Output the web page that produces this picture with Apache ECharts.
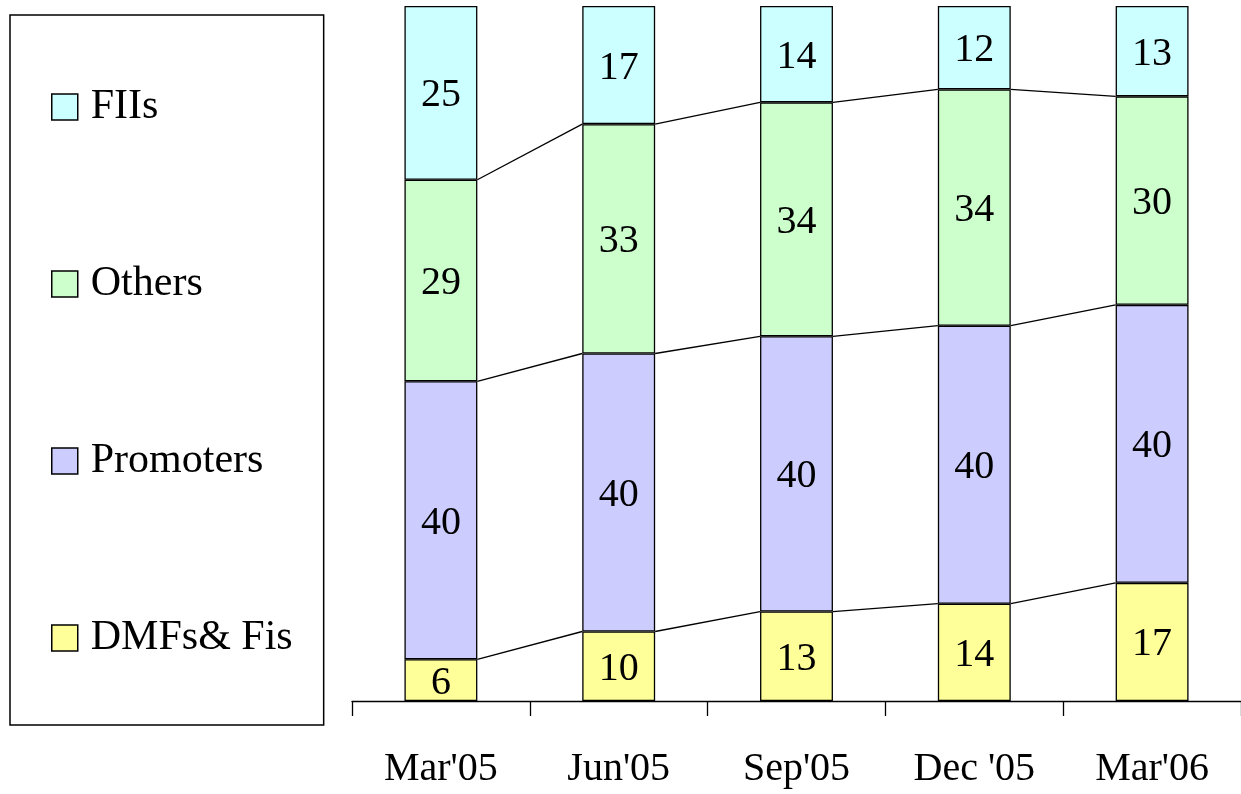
<!DOCTYPE html>
<html>
<head>
<meta charset="utf-8">
<title>Shareholding pattern</title>
<script src="https://cdn.jsdelivr.net/npm/echarts@6/dist/echarts.min.js"></script>
<style>
  html, body { margin: 0; padding: 0; background: #ffffff; }
  #chart { width: 1241px; height: 794px; }
</style>
</head>
<body>
<div id="chart"></div>
<script>
// Quarter labels along the x axis
const quarters = ["Mar'05", "Jun'05", "Sep'05", "Dec '05", "Mar'06"];

// Shareholding (%) per holder group, bottom of the stack first
const dmfsFis   = [6, 10, 13, 14, 17];
const promoters = [40, 40, 40, 40, 40];
const others    = [29, 33, 34, 34, 30];
const fiis      = [25, 17, 14, 12, 13];

const seriesNames  = ['DMFs& Fis', 'Promoters', 'Others', 'FIIs'];
const seriesValues = [dmfsFis, promoters, others, fiis];
const seriesColors = ['#FFFF99', '#CCCCFF', '#CCFFCC', '#CCFFFF'];

const FONT = 'Liberation Serif';
const BAR_RATIO = 0.41;

// Each column is a 100% stack: scale every group by the quarter's total
const totals = quarters.map((_, i) => seriesValues.reduce((s, arr) => s + arr[i], 0));
const shares = seriesValues.map(arr => arr.map((v, i) => v / totals[i] * 100));

// Running tops of the stack, used for the connector lines between columns
const cumulative = [];
shares.reduce((acc, arr) => {
  const next = arr.map((v, i) => acc[i] + v);
  cumulative.push(next);
  return next;
}, quarters.map(() => 0));

// Connector data: [column index, level at this column, level at next column]
const connectorData = [];
for (let k = 0; k < cumulative.length - 1; k++) {
  for (let i = 0; i < quarters.length - 1; i++) {
    connectorData.push([i, cumulative[k][i], cumulative[k][i + 1]]);
  }
}

const barSeries = seriesNames.map((name, s) => ({
  name: name,
  type: 'bar',
  stack: 'share',
  barWidth: (BAR_RATIO * 100) + '%',
  data: shares[s].map((v, i) => ({ value: v, raw: seriesValues[s][i] })),
  itemStyle: { color: seriesColors[s], borderColor: '#000000', borderWidth: 1.3 },
  label: {
    show: true,
    position: 'inside',
    formatter: p => String(p.data.raw),
    color: '#000000',
    fontFamily: FONT,
    fontSize: 40,
    offset: [0, 3]
  },
  emphasis: { disabled: true }
}));

const connectorSeries = {
  name: 'connectors',
  type: 'custom',
  silent: true,
  data: connectorData,
  encode: { x: 0, y: 1 },
  renderItem: function (params, api) {
    const i = api.value(0);
    const p1 = api.coord([i, api.value(1)]);
    const p2 = api.coord([i + 1, api.value(2)]);
    const half = api.size([1, 0])[0] * BAR_RATIO / 2;
    return {
      type: 'line',
      shape: { x1: p1[0] + half, y1: p1[1], x2: p2[0] - half, y2: p2[1] },
      style: { stroke: '#000000', lineWidth: 1.3 }
    };
  }
};

const chart = echarts.init(document.getElementById('chart'), null, { renderer: 'canvas' });
chart.setOption({
  animation: false,
  backgroundColor: '#ffffff',
  textStyle: { fontFamily: FONT },
  grid: { left: 352, top: 6, width: 897, bottom: 93, containLabel: false },
  legend: {
    data: ['FIIs', 'Others', 'Promoters', 'DMFs& Fis'],
    orient: 'vertical',
    left: 10,
    top: 15,
    padding: [71, 31, 66, 41],
    itemWidth: 26,
    itemHeight: 26,
    itemGap: 135,
    icon: 'rect',
    selectedMode: false,
    borderColor: '#000000',
    borderWidth: 1.5,
    itemStyle: { borderColor: '#000000', borderWidth: 1.5 },
    textStyle: {
      color: '#000000',
      fontFamily: FONT,
      fontSize: 42,
      lineHeight: 42,
      padding: [0, 0, 0, 8]
    }
  },
  xAxis: {
    type: 'category',
    data: quarters,
    axisLine: { show: true, lineStyle: { color: '#000000', width: 1.3 } },
    axisTick: { show: true, length: 15, inside: false, lineStyle: { color: '#000000', width: 1.3 } },
    axisLabel: { color: '#000000', fontFamily: FONT, fontSize: 40, margin: 48 }
  },
  yAxis: {
    type: 'value',
    min: 0,
    max: 100,
    show: false,
    splitLine: { show: false }
  },
  series: [connectorSeries].concat(barSeries)
});
</script>
</body>
</html>
